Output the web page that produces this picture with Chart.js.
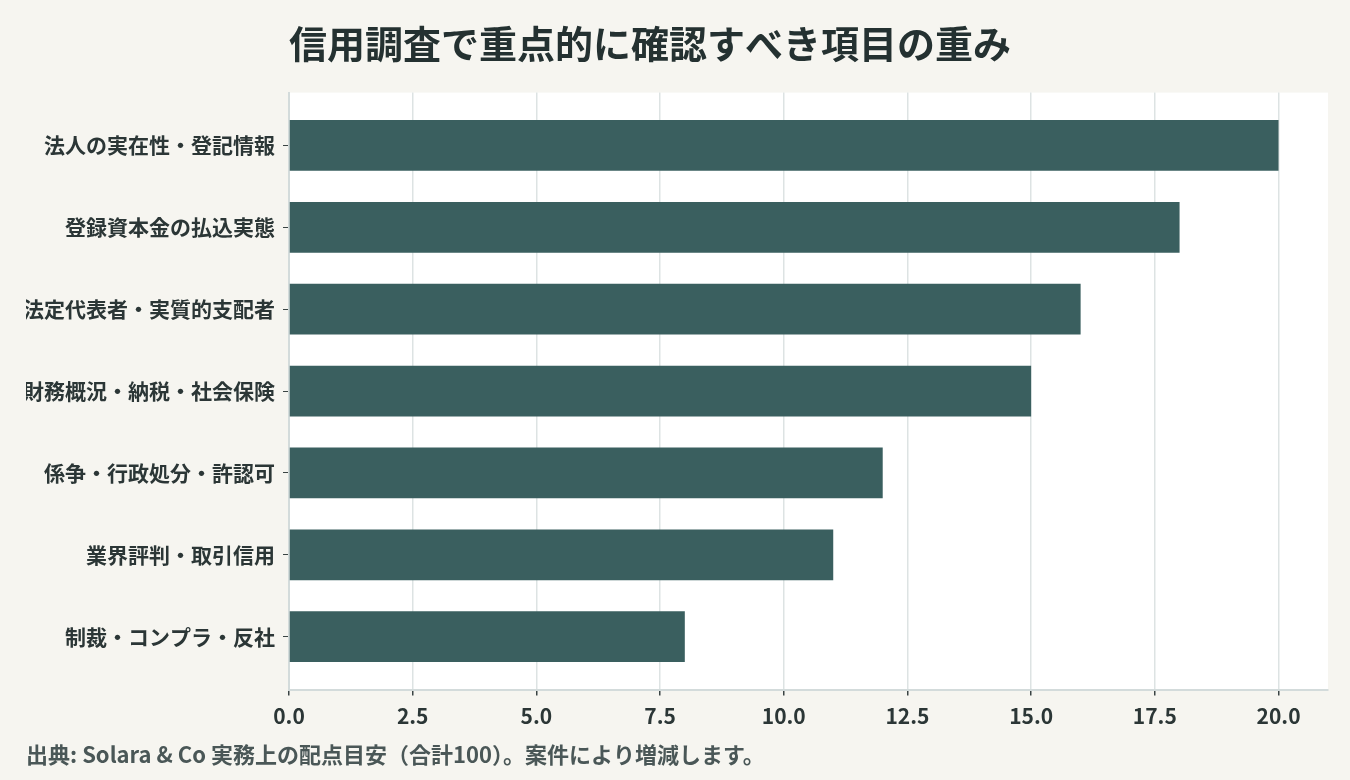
<!DOCTYPE html>
<html lang="ja">
<head>
<meta charset="utf-8">
<title>信用調査で重点的に確認すべき項目の重み</title>
<script src="https://cdn.jsdelivr.net/npm/chart.js@4.4.1/dist/chart.umd.min.js"></script>
<style>
  html, body { margin: 0; padding: 0; background: #f6f5f0; }
  #wrap { width: 1350px; height: 780px; }
</style>
</head>
<body>
<div id="wrap"><canvas id="weightChart" width="1350" height="780"></canvas></div>
<script>
/* =====================
   データ
===================== */
const CATEGORIES = [
    '法人の実在性・登記情報',
    '登録資本金の払込実態',
    '法定代表者・実質的支配者',
    '財務概況・納税・社会保険',
    '係争・行政処分・許認可',
    '業界評判・取引信用',
    '制裁・コンプラ・反社'
];
const WEIGHTS = [20, 18, 16, 15, 12, 11, 8];
const X_TICKS = [0, 2.5, 5, 7.5, 10, 12.5, 15, 17.5, 20];

const TITLE_TEXT = '信用調査で重点的に確認すべき項目の重み';
const NOTE_TEXT = '出典: Solara & Co 実務上の配点目安（合計100）。案件により増減します。';

const FONT = "'Noto Sans CJK JP', 'Noto Sans', sans-serif";

// plot area の白背景
const plotBg = {
    id: 'plotBg',
    beforeDraw(chart) {
        const a = chart.chartArea;
        const ctx = chart.ctx;
        ctx.save();
        ctx.fillStyle = '#ffffff';
        ctx.fillRect(a.left, a.top, a.right - a.left, a.bottom - a.top);
        ctx.restore();
    }
};

new Chart(document.getElementById('weightChart'), {
    type: 'bar',
    data: {
        datasets: [{
            label: '配点',
            data: WEIGHTS.map((v, i) => ({ x: v, y: i })),
            backgroundColor: '#3a5f5f',
            borderWidth: 0,
            categoryPercentage: 1,
            barPercentage: 0.62
        }]
    },
    plugins: [plotBg],
    options: {
        indexAxis: 'y',
        responsive: false,
        animation: false,
        layout: { padding: { top: 10, right: 22, bottom: 12, left: 26 } },
        plugins: {
            legend: { display: false },
            tooltip: { enabled: false },
            title: {
                display: true,
                text: TITLE_TEXT,
                align: 'start',
                fullSize: false,
                color: '#243131',
                font: { family: FONT, size: 38, weight: 'bold', lineHeight: 1.2 },
                padding: { top: 11, bottom: 26 }
            },
            subtitle: {
                display: true,
                text: NOTE_TEXT,
                position: 'bottom',
                align: 'start',
                color: '#4a5757',
                font: { family: FONT, size: 22, weight: 'bold', lineHeight: 1.2 },
                padding: { top: 2, bottom: 0 }
            }
        },
        scales: {
            x: {
                type: 'linear',
                min: 0,
                max: 21,
                afterBuildTicks: (axis) => { axis.ticks = X_TICKS.map(v => ({ value: v })); },
                afterFit: (axis) => { axis.height = 50; },
                ticks: {
                    color: '#2b3636',
                    padding: 8,
                    font: { family: FONT, size: 21, weight: 'bold' },
                    callback: (v) => Number(v).toFixed(1)
                },
                grid: {
                    color: '#dde3e3',
                    lineWidth: 1.5,
                    tickColor: '#3a4444',
                    tickLength: 6
                },
                border: { display: true, color: '#d3dbdb', width: 2 }
            },
            y: {
                type: 'linear',
                reverse: true,
                offset: false,
                min: -0.646,
                max: 6.646,
                afterBuildTicks: (axis) => { axis.ticks = CATEGORIES.map((_, i) => ({ value: i })); },
                afterFit: (axis) => { axis.width = 289 - 26; },
                ticks: {
                    color: '#2b3636',
                    padding: 8,
                    font: { family: FONT, size: 21, weight: 'bold' },
                    callback: (v) => CATEGORIES[v]
                },
                grid: {
                    offset: false,
                    drawOnChartArea: false,
                    tickColor: '#3a4444',
                    tickLength: 6
                },
                border: { display: true, color: '#d3dbdb', width: 2 }
            }
        }
    }
});
</script>
</body>
</html>
